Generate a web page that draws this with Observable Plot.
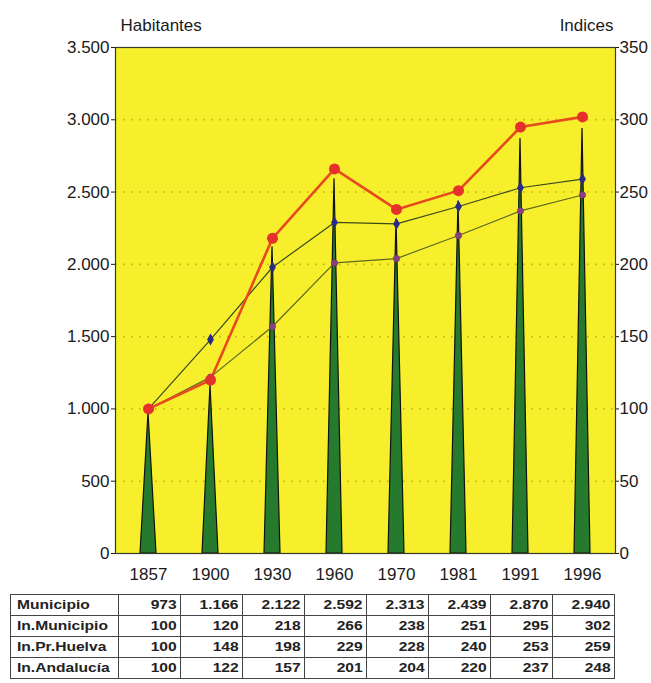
<!DOCTYPE html>
<html>
<head>
<meta charset="utf-8">
<script src="https://cdn.jsdelivr.net/npm/d3@7"></script>
<script src="https://cdn.jsdelivr.net/npm/@observablehq/plot@0.6"></script>
<style>
  html, body { margin: 0; padding: 0; background: #fff; }
  #wrap { position: relative; width: 651px; height: 683px; overflow: hidden; }
  #chart { position: absolute; left: 0; top: 0; }
  table.data { position: absolute; left: 10px; top: 594px; border-collapse: collapse;
    font-family: "Liberation Sans", Arial, sans-serif; font-weight: bold; font-size: 13px; color: #222; }
  table.data td { border: 1px solid #444; height: 20px; padding: 0 3px 0 3px; text-align: right; line-height: 20px; white-space: nowrap; }
  table.data td span { display: inline-block; transform: scaleX(1.2); transform-origin: right center; }
  table.data td.lab { text-align: left; width: 98px; padding-left: 6px; }
  table.data td.lab span { transform-origin: left center; }
  table.data td.num { width: 55px; }
</style>
</head>
<body>
<div id="wrap">
  <div id="chart"></div>
  <table class="data" id="tbl"></table>
</div>
<script>
const years = ["1857", "1900", "1930", "1960", "1970", "1981", "1991", "1996"];
const municipio = [973, 1166, 2122, 2592, 2313, 2439, 2870, 2940];
const inMunicipio = [100, 120, 218, 266, 238, 251, 295, 302];
const inHuelva = [100, 148, 198, 229, 228, 240, 253, 259];
const inAndalucia = [100, 122, 157, 201, 204, 220, 237, 248];
const habitTicks = [0, 500, 1000, 1500, 2000, 2500, 3000, 3500];
const indexTicks = [0, 50, 100, 150, 200, 250, 300, 350];
const gridTicks = [500, 1000, 1500, 2000, 2500, 3000];
const rowLabels = ["Municipio", "In.Municipio", "In.Pr.Huelva", "In.Andalucía"];

const fmt = d3.formatLocale({decimal: ",", thousands: ".", grouping: [3], currency: ["", ""]}).format(",");
const ratio = 10; // Habitantes per index point on the shared axis

const popData = years.map((y, i) => ({year: y, pop: municipio[i]}));
const idx = (arr) => years.map((y, i) => ({year: y, v: arr[i] * ratio}));
const muniIdx = idx(inMunicipio), huelvaIdx = idx(inHuelva), andIdx = idx(inAndalucia);

function spike(index, scales, values, dimensions, context) {
  const sx = scales.x;
  let bw = typeof sx.bandwidth === "function" ? sx.bandwidth() : sx.bandwidth;
  const g = d3.create("svg:g");
  for (const i of index) {
    const x0 = values.x[i], yb = values.y1[i], yt = values.y2[i];
    g.append("path")
      .attr("d", `M${x0},${yb}L${x0 + bw / 2},${yt}L${x0 + bw},${yb}Z`)
      .attr("fill", "#267a2e")
      .attr("stroke", "#111")
      .attr("stroke-width", 1.2)
      .attr("stroke-linejoin", "miter");
  }
  return g.node();
}

const chart = Plot.plot({
  width: 651,
  height: 590,
  marginTop: 47,
  marginLeft: 115,
  marginRight: 36,
  marginBottom: 37,
  style: {fontFamily: "Liberation Sans, Arial, sans-serif", fontSize: "17px", color: "#1a1a1a", background: "transparent"},
  x: {domain: years, paddingInner: 0.744, paddingOuter: 0.372, axis: null},
  y: {domain: [0, 3500], axis: null},
  marks: [
    Plot.frame({fill: "#f8ef2c", stroke: null}),
    Plot.ruleY(gridTicks, {stroke: "#a99c1c", strokeWidth: 1.6, strokeDasharray: "1.5,6.5", strokeOpacity: 0.8}),
    Plot.barY(popData, {x: "year", y: "pop", render: spike}),
    Plot.line(andIdx, {x: "year", y: "v", stroke: "#5d6a1c", strokeWidth: 1.2}),
    Plot.line(huelvaIdx, {x: "year", y: "v", stroke: "#3c4a1c", strokeWidth: 1.2}),
    Plot.line(muniIdx, {x: "year", y: "v", stroke: "#e64a1e", strokeWidth: 2.6}),
    Plot.dot(andIdx, {x: "year", y: "v", r: 3.2, fill: "#8a3f82", stroke: "#6b3a6a", strokeWidth: 0.6}),
    Plot.dot(huelvaIdx, {x: "year", y: "v", symbol: "diamond", r: 3.6, fill: "#262c86"}),
    Plot.dot(muniIdx, {x: "year", y: "v", r: 5.5, fill: "#e5302c"}),
    Plot.frame({stroke: "#3a3a2a", strokeWidth: 1.2}),
    Plot.axisX({tickSize: 0, tickPadding: 14, fontSize: 17, label: null}),
    Plot.axisY(habitTicks, {anchor: "left", tickFormat: fmt, tickSize: 4, tickPadding: 2, fontSize: 17, label: null}),
    Plot.axisY(habitTicks, {anchor: "right", tickFormat: (d) => String(d / ratio), tickSize: 3, tickPadding: 1, fontSize: 17, label: null}),
    Plot.text(["Habitantes"], {frameAnchor: "top-left", dx: 5, dy: -29, textAnchor: "start", fontSize: 17}),
    Plot.text(["Indices"], {frameAnchor: "top-right", dx: -2, dy: -29, textAnchor: "end", fontSize: 17})
  ]
});
document.getElementById("chart").appendChild(chart);

const rows = [
  municipio.map((v) => fmt(v)),
  inMunicipio.map(String),
  inHuelva.map(String),
  inAndalucia.map(String)
];
const tbl = document.getElementById("tbl");
rows.forEach((r, ri) => {
  const tr = document.createElement("tr");
  const th = document.createElement("td");
  th.className = "lab";
  const s0 = document.createElement("span");
  s0.textContent = rowLabels[ri];
  th.appendChild(s0);
  tr.appendChild(th);
  r.forEach((v) => {
    const td = document.createElement("td");
    td.className = "num";
    const s = document.createElement("span");
    s.textContent = v;
    td.appendChild(s);
    tr.appendChild(td);
  });
  tbl.appendChild(tr);
});
</script>
</body>
</html>
